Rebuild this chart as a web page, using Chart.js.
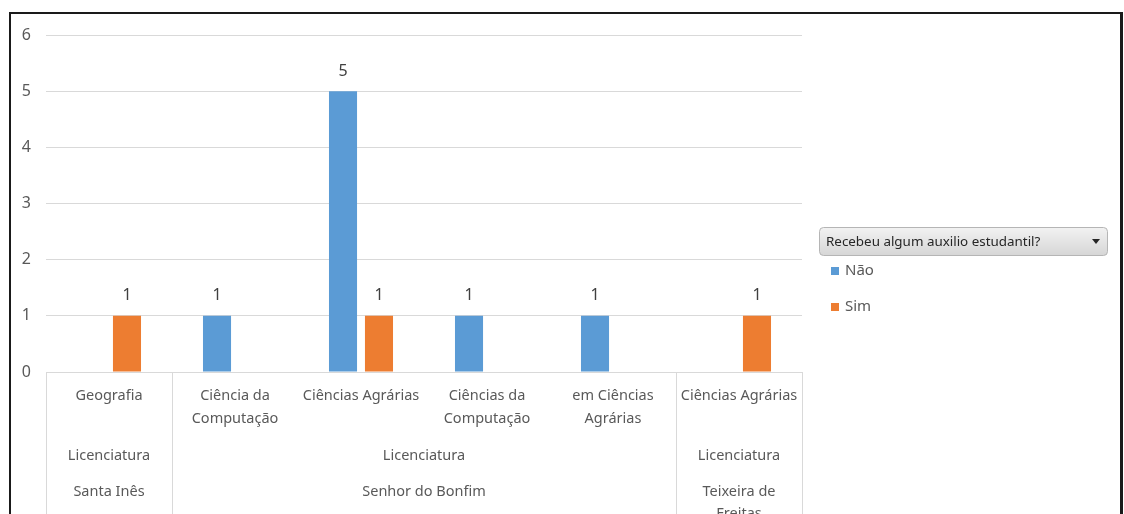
<!DOCTYPE html>
<html lang="pt">
<head>
    <meta charset="UTF-8">
    <title>Recebeu algum auxilio estudantil?</title>
    <script src="https://cdn.jsdelivr.net/npm/chart.js"></script>
    <style>
        body {
            margin: 0;
            background: white;
            overflow: hidden;
        }
        .chart-box {
            position: absolute;
            left: 0;
            top: 0;
            width: 1124px;
            height: 514px;
        }
        .frame {
            position: absolute;
            left: 9px;
            top: 12px;
            width: 1109px;
            height: 520px;
            border: 2px solid #1a1a1a;
            border-right-width: 3px;
            border-bottom: none;
            pointer-events: none;
        }
    </style>
</head>
<body>
    <div class="chart-box">
        <canvas id="chart" width="1124" height="514"></canvas>
    </div>
    <div class="frame"></div>
    <script>
        // data
        const categories = ['Geografia', 'Ciência da Computação', 'Ciências Agrárias', 'Ciências da Computação', 'em Ciências Agrárias', 'Ciências Agrárias'];
        const degrees = ['Licenciatura', 'Licenciatura', 'Licenciatura', 'Licenciatura', 'Licenciatura', 'Licenciatura'];
        const campuses = ['Santa Inês', 'Senhor do Bonfim', 'Senhor do Bonfim', 'Senhor do Bonfim', 'Senhor do Bonfim', 'Teixeira de Freitas'];
        const seriesNames = ['Não', 'Sim'];
        const naoValues = [null, 1, 5, 1, 1, null];
        const simValues = [1, null, 1, null, null, 1];
        const yTicks = [0, 1, 2, 3, 4, 5, 6];
        const fieldTitle = 'Recebeu algum auxilio estudantil?';

        const FONT = '"Noto Sans", sans-serif';
        const TEXT = '#595959';
        const AXIS_FONT = '14.5px ' + FONT;
        const measureCtx = document.createElement('canvas').getContext('2d');

        function wrap(text, maxWidth, font) {
            measureCtx.font = font;
            const words = text.split(' ');
            const lines = [];
            let line = '';
            words.forEach(w => {
                const test = line ? line + ' ' + w : w;
                if (line && measureCtx.measureText(test).width > maxWidth) {
                    lines.push(line);
                    line = w;
                } else {
                    line = test;
                }
            });
            if (line) lines.push(line);
            return lines;
        }

        // find runs of equal keys for the lower category levels
        function spans(keys) {
            const out = [];
            keys.forEach((k, i) => {
                const last = out[out.length - 1];
                if (last && last.key === k) last.end = i;
                else out.push({ key: k, start: i, end: i });
            });
            return out;
        }

        const levelPlugin = {
            id: 'levels',
            afterDraw(chart) {
                const ctx = chart.ctx;
                const x = chart.scales.x;
                const n = categories.length;
                const step = x.width / n;
                const edge = i => x.left + i * step;
                const top = chart.chartArea.bottom;

                ctx.save();
                // separators between campus groups
                ctx.strokeStyle = '#d9d9d9';
                ctx.lineWidth = 1;
                const campusSpans = spans(campuses);
                const cuts = new Set([0, n]);
                campusSpans.forEach(s => { cuts.add(s.start); cuts.add(s.end + 1); });
                cuts.forEach(c => {
                    const px = Math.round(edge(c)) + 0.5;
                    ctx.beginPath();
                    ctx.moveTo(px, top);
                    ctx.lineTo(px, chart.height);
                    ctx.stroke();
                });

                ctx.fillStyle = TEXT;
                ctx.font = AXIS_FONT;
                ctx.textAlign = 'center';
                ctx.textBaseline = 'middle';
                const degreeKeys = degrees.map((d, i) => campuses[i] + '|' + d);
                spans(degreeKeys).forEach(s => {
                    const cx = (edge(s.start) + edge(s.end + 1)) / 2;
                    const lines = wrap(degrees[s.start], edge(s.end + 1) - edge(s.start) - 10, AXIS_FONT);
                    lines.forEach((l, j) => ctx.fillText(l, cx, 456 + j * 22));
                });
                campusSpans.forEach(s => {
                    const cx = (edge(s.start) + edge(s.end + 1)) / 2;
                    const lines = wrap(s.key, edge(s.end + 1) - edge(s.start) - 10, AXIS_FONT);
                    lines.forEach((l, j) => ctx.fillText(l, cx, 492 + j * 22));
                });
                ctx.restore();
            }
        };

        const valuePlugin = {
            id: 'values',
            afterDatasetsDraw(chart) {
                const ctx = chart.ctx;
                ctx.save();
                ctx.fillStyle = '#404040';
                ctx.font = '16px ' + FONT;
                ctx.textAlign = 'center';
                ctx.textBaseline = 'middle';
                chart.data.datasets.forEach((ds, di) => {
                    chart.getDatasetMeta(di).data.forEach((bar, i) => {
                        if (ds.data[i] == null) return;
                        ctx.fillText(ds.data[i], bar.x, bar.y - 20);
                    });
                });
                ctx.restore();
            }
        };

        const legendPlugin = {
            id: 'pivotLegend',
            afterDraw(chart) {
                const ctx = chart.ctx;
                ctx.save();
                // field button
                const bx = 819.5, by = 227.5, bw = 288, bh = 28, r = 4;
                const g = ctx.createLinearGradient(0, by, 0, by + bh);
                g.addColorStop(0, '#f2f2f2');
                g.addColorStop(1, '#d6d6d6');
                ctx.beginPath();
                ctx.roundRect(bx, by, bw, bh, r);
                ctx.fillStyle = g;
                ctx.fill();
                ctx.strokeStyle = '#b5b5b5';
                ctx.stroke();
                ctx.fillStyle = '#262626';
                ctx.font = '13.4px ' + FONT;
                ctx.textBaseline = 'middle';
                ctx.textAlign = 'left';
                ctx.fillText(fieldTitle, 826, by + bh / 2 + 1);
                ctx.beginPath();
                ctx.moveTo(1092, 239);
                ctx.lineTo(1100, 239);
                ctx.lineTo(1096, 244);
                ctx.closePath();
                ctx.fill();

                // series entries
                ctx.font = '15px ' + FONT;
                chart.data.datasets.forEach((ds, i) => {
                    const y = 271 + i * 36;
                    ctx.fillStyle = ds.backgroundColor;
                    ctx.fillRect(831, y - 4, 8, 8);
                    ctx.fillStyle = TEXT;
                    ctx.fillText(ds.label, 845, y);
                });
                ctx.restore();
            }
        };

        const chart = new Chart(document.getElementById('chart'), {
            type: 'bar',
            data: {
                labels: categories,
                datasets: [
                    { label: seriesNames[0], data: naoValues, backgroundColor: '#5b9bd5' },
                    { label: seriesNames[1], data: simValues, backgroundColor: '#ed7d31' }
                ]
            },
            options: {
                responsive: false,
                animation: false,
                devicePixelRatio: 1,
                layout: { padding: { left: 0, top: 35, right: 322, bottom: 0 } },
                datasets: {
                    bar: { categoryPercentage: 0.571, barPercentage: 0.78 }
                },
                plugins: {
                    legend: { display: false },
                    tooltip: { enabled: false }
                },
                scales: {
                    x: {
                        grid: { display: false, drawTicks: false },
                        border: { display: false },
                        afterFit: s => { s.height = 142; },
                        ticks: {
                            autoSkip: false,
                            maxRotation: 0,
                            padding: 13,
                            color: TEXT,
                            font: { family: FONT, size: 14.5, lineHeight: 1.55 },
                            callback: (v, i) => wrap(categories[i], 123, AXIS_FONT)
                        }
                    },
                    y: {
                        min: 0,
                        max: yTicks[yTicks.length - 1],
                        afterFit: s => { s.width = 46; },
                        afterBuildTicks: s => { s.ticks = yTicks.map(v => ({ value: v })); },
                        grid: { color: '#d9d9d9', drawTicks: false },
                        border: { display: false },
                        ticks: {
                            padding: 15,
                            color: TEXT,
                            font: { family: FONT, size: 16 }
                        }
                    }
                }
            },
            plugins: [levelPlugin, valuePlugin, legendPlugin]
        });
    </script>
</body>
</html>
